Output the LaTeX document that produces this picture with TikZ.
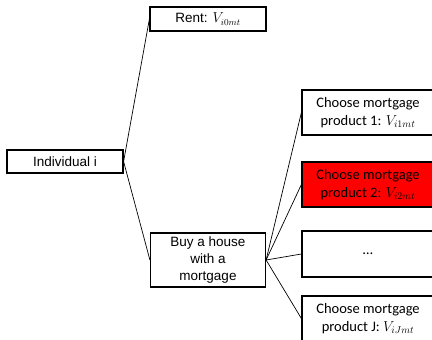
\documentclass[tikz,border=0pt]{standalone}
\usepackage{fontspec}
\usepackage{amsmath}
\setmainfont{Liberation Sans}
\newfontfamily\calibri{Carlito}
\usepackage{tikz}
\usetikzlibrary{positioning}
\usepackage{xcolor}
\definecolor{rosso}{RGB}{255,0,0}

\begin{document}
\begin{tikzpicture}[x=1pt, y=-1pt,
    scelta/.style = {draw, line width=1.2pt, inner sep=0pt, align=center,
                     font=\fontsize{13.5}{17}\selectfont},
    prodotto/.style = {scelta, minimum width=132pt, minimum height=45pt,
                       font=\calibri\fontsize{14.5}{18}\selectfont},
    ramo/.style = {line width=0.7pt}]
    % Parametri
    \pgfmathsetmacro{\xl}{65}
    \pgfmathsetmacro{\xm}{208}
    \pgfmathsetmacro{\xr}{368}
    % Cornice
    \useasboundingbox (0,0) rectangle (432,340);
    \clip (0,0) rectangle (432,340);
    % Nodi a sinistra
    \node[scelta, minimum width=116pt, minimum height=23pt] (individuo) at (\xl,161.5) {Individual i};
    \node[scelta, minimum width=116pt, minimum height=24pt] (affitto) at (\xm,19) {Rent: $V_{i0mt}$};
    \node[scelta, minimum width=115pt, minimum height=54pt] (casa) at (\xm,260) {Buy a house\\with a\\mortgage};
    % Prodotti
    \node[prodotto] (prod1) at (\xr,112.5) {Choose mortgage\\product 1: $V_{i1mt}$};
    \node[prodotto, fill=rosso] (prod2) at (\xr,184.5) {Choose mortgage\\product 2: $V_{i2mt}$};
    \node[prodotto, minimum height=46pt] (puntini) at (\xr,254) {\dots};
    \node[prodotto] (prodJ) at (\xr,318.5) {Choose mortgage\\product J: $V_{iJmt}$};
    % Rami
    \draw[ramo] (individuo.east) -- (affitto.west);
    \draw[ramo] (individuo.east) -- (casa.west);
    \draw[ramo] (casa.east) -- (prod1.west);
    \draw[ramo] (casa.east) -- (prod2.west);
    \draw[ramo] (casa.east) -- (puntini.west);
    \draw[ramo] (casa.east) -- (prodJ.west);
\end{tikzpicture}
\end{document}
